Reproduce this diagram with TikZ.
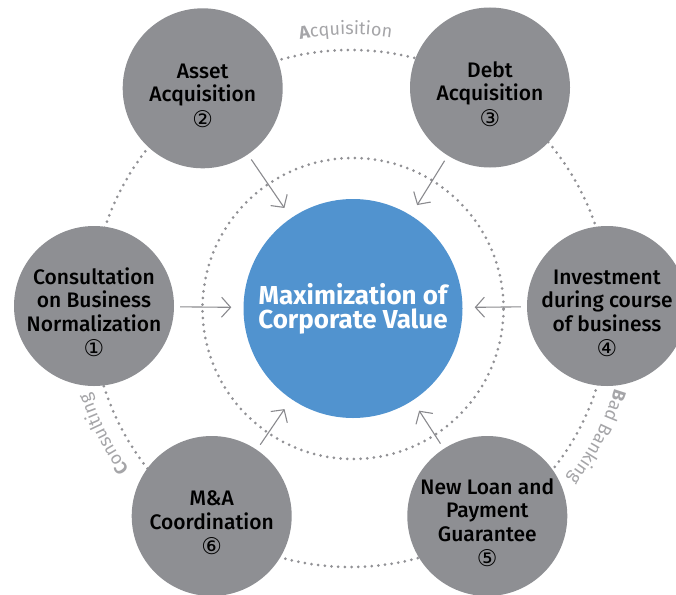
\documentclass[tikz,border=0pt]{standalone}
\usepackage{fontspec}
\setmainfont{Fira Sans}
\newfontfamily\satfont{Fira Sans Medium}
\newfontfamily\numfont{DejaVu Sans}
\usepackage{tikz}
\usetikzlibrary{arrows.meta, calc, decorations.text}

\definecolor{satgray}{RGB}{142,143,147}
\definecolor{coreblue}{RGB}{81,147,207}
\definecolor{ringgray}{RGB}{145,145,149}
\definecolor{arrgray}{RGB}{138,138,142}
\definecolor{labgray}{RGB}{165,165,168}

\newcommand{\circnum}[1]{\\[2pt]{\numfont\fontsize{23}{23}\selectfont #1}}
\newcommand{\topgap}{\rule{0pt}{29pt}}
\newcommand{\lblfont}{\fontsize{18}{18}\selectfont\mdseries}

\begin{document}
\begin{tikzpicture}[
  x=1pt, y=1pt,
  sat/.style={circle, fill=satgray, minimum size=160pt, inner sep=-20pt,
              align=center, text=black, font=\satfont\fontsize{21}{23.5}\selectfont},
  core/.style={circle, fill=coreblue, minimum size=219pt, inner sep=0pt,
               align=center, text=white, font=\fontsize{26}{24}\selectfont\bfseries},
  ring/.style={draw=ringgray, line width=3pt, line cap=round,
               dash pattern=on 0pt off 6.7pt},
  arr/.style={-{Straight Barb[length=9pt, width=20pt]}, draw=arrgray,
              line width=1.1pt, shorten <=6pt, shorten >=12pt},
  lab/.style={decorate, decoration={text along path, text align=center,
              text color=labgray}},
]
\useasboundingbox (0,0) rectangle (676,-594);
\clip (0,0) rectangle (676,-594);

\coordinate (O) at (350.5,-308.5);

% ---- Rings -----------------------------------------------------------------
\draw[ring] (O) circle (258.5);
\draw[ring] (353,-308.5) circle (150.5);

% ---- Centre ----------------------------------------------------------------
\node[core] (core) at (353,-308.5) {Maximization of\\Corporate Value};

% ---- Services --------------------------------------------------------------
\node[sat] (cons)  at (94,-306)     {\topgap Consultation\\on Business\\Normalization\circnum{①}};
\node[sat] (asset) at (202.7,-88.3) {\topgap Asset\\Acquisition\circnum{②}};
\node[sat] (debt)  at (490,-87.5)   {\topgap Debt\\Acquisition\circnum{③}};
\node[sat] (inv)   at (607,-306)    {\topgap Investment\\during course\\of business\circnum{④}};
\node[sat] (loan)  at (487.3,-516)  {\topgap New Loan and\\Payment\\Guarantee\circnum{⑤}};
\node[sat] (mna)   at (211.7,-516)  {\topgap M\&A\\Coordination\circnum{⑥}};

% ---- Arrows into the centre ------------------------------------------------
\foreach \s in {cons, asset, debt, inv, loan, mna}
  \draw[arr] (\s) -- (core);

% ---- Ring labels -----------------------------------------------------------
\path[lab, decoration={text={|\lblfont\bfseries|A|\lblfont|cquisition}}]
  ($(O)+(120:274)$) arc[start angle=120, end angle=62, radius=274];
\path[lab, decoration={text={|\lblfont\bfseries|B|\lblfont|ad Banking}}]
  ($(O)+(2:276)$) arc[start angle=2, end angle=-57, radius=276];
\path[lab, decoration={text={|\lblfont\bfseries|C|\lblfont|onsulting}}]
  ($(O)+(-123:274)$) arc[start angle=-123, end angle=-183, radius=274];

\end{tikzpicture}
\end{document}
